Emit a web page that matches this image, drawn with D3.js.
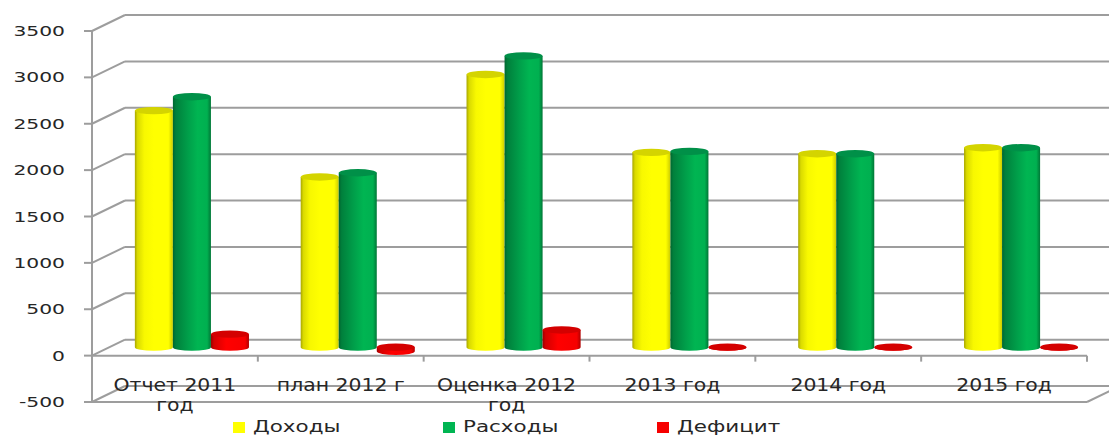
<!DOCTYPE html>
<html>
<head>
<meta charset="utf-8">
<script src="https://cdn.jsdelivr.net/npm/d3@7"></script>
<style>
  body { margin: 0; background: #fff; }
  svg { display: block; }
  text { font-family: 'DejaVu Sans', Verdana, sans-serif; fill: #262626; }
</style>
</head>
<body>
<div id="chart"></div>
<script>
// data
const categories = ['Отчет 2011\nгод', 'план 2012 г', 'Оценка 2012\nгод', '2013 год', '2014 год', '2015 год'];
const seriesNames = ['Доходы', 'Расходы', 'Дефицит'];
const dohody = [2550, 1835, 2940, 2100, 2085, 2150];
const rashody = [2700, 1880, 3140, 2110, 2085, 2150];
const deficit = [140, -45, 185, 0, 0, 0];
const yTicks = [-500, 0, 500, 1000, 1500, 2000, 2500, 3000, 3500];

const W = 1109, H = 437;
const depth = { dx: 33, dy: -16 };      // back wall offset
const barShift = { dx: 17, dy: -8.5 };  // bars sit half way into the depth
const gridColor = '#9d9d9d';

const colors = {
  'Доходы':  { stops: [[0, '#a8a600'], [0.07, '#dada00'], [0.25, '#f8f800'], [0.5, '#ffff00'], [0.88, '#ffff00'], [1, '#cccc00']], top: '#d4d400' },
  'Расходы': { stops: [[0, '#006630'], [0.08, '#00803c'], [0.4, '#009f4a'], [0.65, '#00b552'], [0.9, '#00b050'], [1, '#007636']], top: '#009048' },
  'Дефицит': { stops: [[0, '#9c0000'], [0.08, '#d20000'], [0.4, '#ff0000'], [0.9, '#f60000'], [1, '#b00000']], top: '#d40000' }
};

const svg = d3.select('#chart').append('svg')
  .attr('width', W)
  .attr('height', H);

const defs = svg.append('defs');
seriesNames.forEach((s, i) => {
  const g = defs.append('linearGradient')
    .attr('id', 'grad' + i)
    .attr('x1', '0%').attr('x2', '100%').attr('y1', '0%').attr('y2', '0%');
  colors[s].stops.forEach(st => {
    g.append('stop').attr('offset', st[0]).attr('stop-color', st[1]);
  });
});

const y = d3.scaleLinear().domain([-500, 3500]).range([402, 31]);
const x = d3.scaleBand().domain(categories).range([92, 1087]).padding(0);
const xs = d3.scaleBand().domain(seriesNames).range([0, x.bandwidth()])
  .paddingInner(0).paddingOuter(0.68);

// back wall grid lines with the diagonal from the front axis
const grid = svg.append('g');
yTicks.forEach(v => {
  const yf = y(v);
  grid.append('line')
    .attr('x1', 92).attr('y1', yf)
    .attr('x2', 92 + depth.dx).attr('y2', yf + depth.dy)
    .attr('stroke', gridColor).attr('stroke-width', 2);
  grid.append('line')
    .attr('x1', 92 + depth.dx).attr('y1', yf + depth.dy)
    .attr('x2', 1087 + depth.dx).attr('y2', yf + depth.dy)
    .attr('stroke', gridColor).attr('stroke-width', 2);
});

// front floor edge at -500 and its right side
grid.append('line')
  .attr('x1', 92).attr('y1', y(-500)).attr('x2', 1087).attr('y2', y(-500))
  .attr('stroke', gridColor).attr('stroke-width', 2);
grid.append('line')
  .attr('x1', 1087).attr('y1', y(-500))
  .attr('x2', 1087 + depth.dx).attr('y2', y(-500) + depth.dy)
  .attr('stroke', gridColor).attr('stroke-width', 2);

// category axis at 0
grid.append('line')
  .attr('x1', 92).attr('y1', y(0)).attr('x2', 1087).attr('y2', y(0))
  .attr('stroke', gridColor).attr('stroke-width', 2);
categories.forEach(c => {
  const xe = x(c) + x.bandwidth();
  grid.append('line')
    .attr('x1', xe).attr('y1', y(0)).attr('x2', xe).attr('y2', y(0) + 6)
    .attr('stroke', gridColor).attr('stroke-width', 2);
});

// value axis
grid.append('line')
  .attr('x1', 92).attr('y1', y(3500)).attr('x2', 92).attr('y2', y(-500))
  .attr('stroke', gridColor).attr('stroke-width', 2);
yTicks.forEach(v => {
  grid.append('line')
    .attr('x1', 84).attr('y1', y(v)).attr('x2', 92).attr('y2', y(v))
    .attr('stroke', gridColor).attr('stroke-width', 2);
});

// cylinders
function cylinder(g, x0, w, yTop, yBot, ry, gi, topFill) {
  const rx = w / 2;
  g.append('path')
    .attr('d', `M${x0},${yTop} L${x0},${yBot} A${rx},${ry} 0 0 0 ${x0 + w},${yBot} L${x0 + w},${yTop} Z`)
    .attr('fill', `url(#grad${gi})`);
  g.append('ellipse')
    .attr('cx', x0 + rx).attr('cy', yTop)
    .attr('rx', rx).attr('ry', ry)
    .attr('fill', topFill);
}

const valuesBySeries = [dohody, rashody, deficit];
const bars = svg.append('g');
categories.forEach((c, ci) => {
  seriesNames.forEach((s, si) => {
    const v = valuesBySeries[si][ci];
    const x0 = x(c) + xs(s) + barShift.dx;
    const y0 = y(0) + barShift.dy;
    const yv = y(v) + barShift.dy;
    const yTop = Math.min(y0, yv);
    const yBot = Math.max(y0, yv);
    cylinder(bars, x0, xs.bandwidth(), yTop, yBot, 3.7, si, colors[s].top);
  });
});

// stretched text helper (the picture is wide)
function label(g, str, px, py, size, sx, anchor) {
  return g.append('text')
    .attr('transform', `translate(${px},${py}) scale(${sx},1)`)
    .attr('text-anchor', anchor)
    .style('font-size', size + 'px')
    .text(str);
}

const texts = svg.append('g');
yTicks.forEach(v => {
  label(texts, v, 65, y(v) + 5, 14, 1.45, 'end');
});

categories.forEach(c => {
  const cx = x(c) + x.bandwidth() / 2;
  c.split('\n').forEach((line, li) => {
    label(texts, line, cx, 391 + li * 20, 17, 1.2, 'middle');
  });
});

// legend
const legendX = [233, 443, 657];
seriesNames.forEach((s, i) => {
  texts.append('rect')
    .attr('x', legendX[i]).attr('y', 422)
    .attr('width', 12).attr('height', 11)
    .attr('fill', colors[s].stops[3][1]);
  label(texts, s, legendX[i] + 20, 432, 16, 1.34, 'start');
});
</script>
</body>
</html>
